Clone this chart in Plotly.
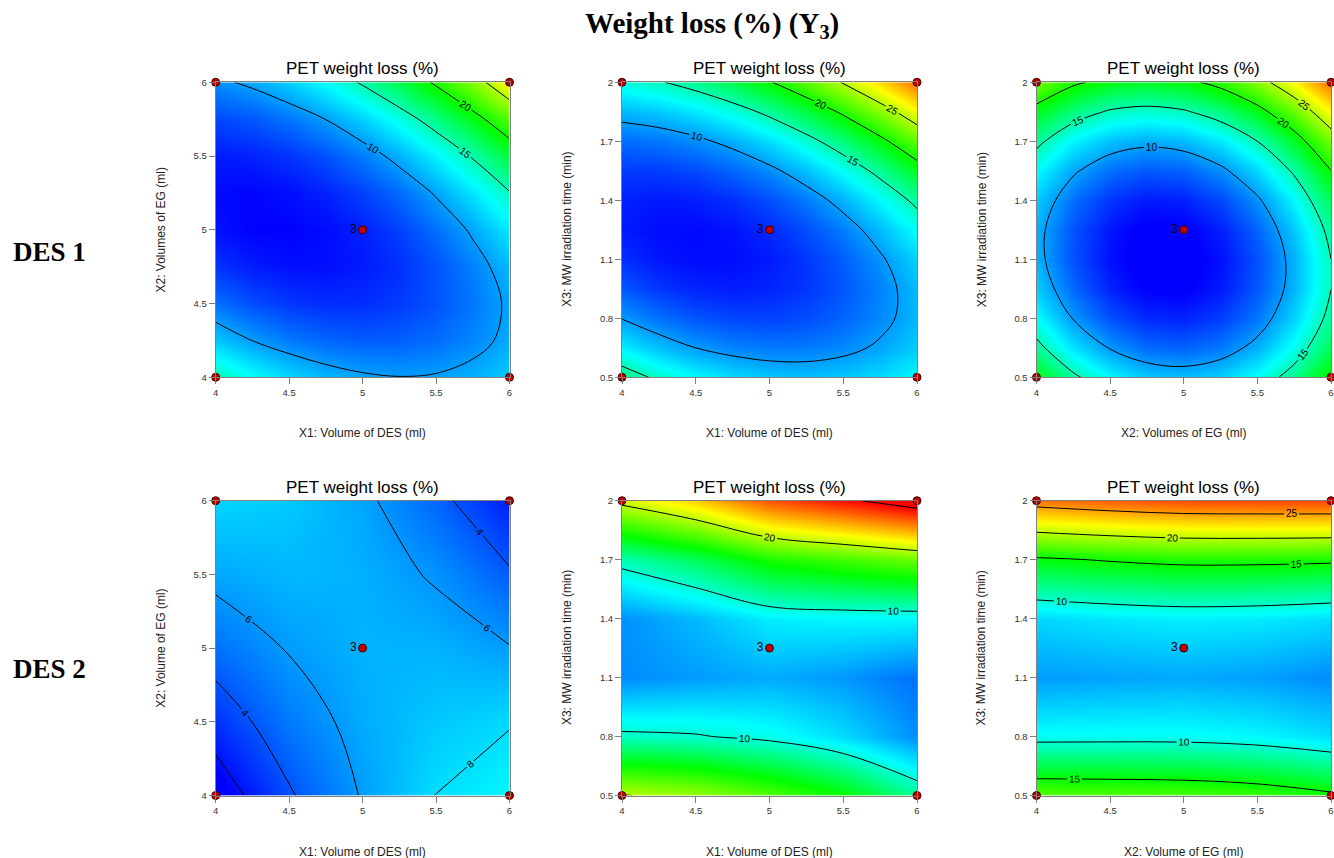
import plotly.graph_objects as go

# ---------------- data ----------------
x_fine = [4, 4.25, 4.5, 4.75, 5, 5.25, 5.5, 5.75, 6]                       # X1 / X2 (ml)
x3_fine = [0.5, 0.65, 0.8, 0.95, 1.1, 1.25, 1.4, 1.55, 1.7, 1.85, 2.0]     # X3 (min)
x_coarse = [4, 4.5, 5, 5.5, 6]
x3_coarse = [0.5, 0.8, 1.1, 1.4, 1.7, 2.0]

# DES 1 : PET weight loss (%) ; rows follow the y grid, columns the x grid
des1_x1x2 = [
    [15.05, 13.30, 11.93, 10.93, 10.30, 10.05, 10.18, 10.68, 11.55],
    [11.39, 9.97, 8.92, 8.25, 7.95, 8.03, 8.48, 9.31, 10.51],
    [8.58, 7.48, 6.76, 6.42, 6.45, 6.86, 7.64, 8.79, 10.33],
    [6.61, 5.85, 5.46, 5.44, 5.80, 6.53, 7.64, 9.13, 10.99],
    [5.50, 5.06, 5.00, 5.31, 6.00, 7.06, 8.50, 10.31, 12.50],
    [5.24, 5.13, 5.39, 6.03, 7.05, 8.44, 10.21, 12.35, 14.86],
    [5.83, 6.04, 6.64, 7.61, 8.95, 10.67, 12.76, 15.23, 18.08],
    [7.26, 7.81, 8.73, 10.03, 11.70, 13.75, 16.17, 18.97, 22.14],
    [9.55, 10.43, 11.68, 13.30, 15.30, 17.68, 20.43, 23.55, 27.60],
]
des1_x1x3 = [
    [16.35, 14.49, 13.05, 12.02, 11.40, 11.19, 11.40, 12.02, 13.05],
    [12.76, 11.17, 10.00, 9.24, 8.89, 8.95, 9.43, 10.32, 11.62],
    [9.92, 8.60, 7.70, 7.21, 7.13, 7.46, 8.21, 9.37, 10.94],
    [7.82, 6.77, 6.14, 5.92, 6.11, 6.71, 7.73, 9.16, 11.00],
    [6.46, 5.68, 5.32, 5.37, 5.83, 6.70, 7.99, 9.69, 11.80],
    [5.85, 5.34, 5.25, 5.57, 6.30, 7.44, 9.00, 10.97, 13.35],
    [5.98, 5.74, 5.92, 6.51, 7.51, 8.92, 10.75, 12.99, 15.64],
    [6.86, 6.89, 7.34, 8.20, 9.47, 11.15, 13.25, 15.76, 18.68],
    [8.48, 8.78, 9.50, 10.63, 12.17, 14.12, 16.49, 19.27, 22.46],
    [10.84, 11.41, 12.40, 13.80, 15.61, 17.83, 20.47, 23.52, 26.98],
    [13.95, 14.79, 16.05, 17.72, 19.80, 22.29, 25.20, 28.52, 32.25],
]
des1_x2x3 = [
    [19.12, 15.52, 12.98, 11.49, 11.07, 11.70, 13.40, 16.15, 19.96],
    [15.79, 12.29, 9.86, 8.48, 8.16, 8.90, 10.70, 13.56, 17.47],
    [13.28, 9.89, 7.57, 6.29, 6.08, 6.93, 8.83, 11.80, 15.82],
    [11.60, 8.32, 6.09, 4.93, 4.82, 5.77, 7.78, 10.85, 14.98],
    [10.75, 7.58, 5.46, 4.40, 4.40, 5.46, 7.58, 10.75, 14.99],
    [10.73, 7.66, 5.65, 4.69, 4.80, 5.96, 8.19, 11.47, 15.81],
    [11.54, 8.57, 6.67, 5.82, 6.03, 7.30, 9.63, 13.02, 17.46],
    [13.17, 10.31, 8.51, 7.77, 8.09, 9.47, 11.90, 15.40, 19.95],
    [15.63, 12.88, 11.18, 10.55, 10.97, 12.45, 15.00, 18.59, 23.25],
    [18.92, 16.28, 14.69, 14.16, 14.69, 16.28, 18.93, 22.63, 27.40],
    [23.04, 20.50, 19.02, 18.59, 19.23, 20.92, 23.68, 27.49, 32.36],
]
# DES 2
des2_x1x2 = [
    [0.83, 3.80, 6.13, 8.05, 8.83],
    [2.95, 5.08, 6.56, 7.39, 7.90],
    [4.83, 6.11, 6.75, 6.74, 6.08],
    [6.45, 6.89, 6.69, 5.83, 4.20],
    [7.83, 7.43, 6.38, 4.50, 2.33],
]
des2_x1x3 = [
    [20.14, 19.16, 17.27, 14.96, 11.46],
    [10.41, 10.17, 9.44, 8.00, 5.67],
    [5.61, 6.10, 6.55, 5.97, 4.81],
    [5.73, 6.96, 8.58, 8.86, 8.88],
    [10.78, 12.75, 15.54, 16.69, 17.87],
    [20.76, 23.47, 27.43, 29.44, 31.79],
]
des2_x2x3 = [
    [17.30, 17.17, 17.01, 16.50, 15.44],
    [9.23, 9.28, 9.27, 8.89, 8.04],
    [6.09, 6.32, 6.46, 6.20, 5.58],
    [7.87, 8.30, 8.58, 8.45, 8.04],
    [14.59, 15.20, 15.63, 15.62, 15.44],
    [26.23, 27.02, 27.60, 27.71, 27.76],
]

# design points: factorial corners + centre point (3 replicates)
corner_x = [4, 6, 4, 6]
corner_x2 = [4, 4, 6, 6]
corner_x3 = [0.5, 0.5, 2, 2]
centre_x = [5]
centre_x2 = [5]
centre_x3 = [1.25]
centre_label = ["3"]

x_ticks = [4, 4.5, 5, 5.5, 6]
x2_ticks = [4, 4.5, 5, 5.5, 6]
x3_ticks = [0.5, 0.8, 1.1, 1.4, 1.7, 2]
x3_ticktext = ["0.5", "0.8", "1.1", "1.4", "1.7", "2"]

panel_title = "PET weight loss (%)"
main_title = "Weight loss (%) (Y<sub>3</sub>)"
row_labels = ["DES 1", "DES 2"]

# ---------------- styling ----------------
W, H = 1334, 858
colorscale = [
    [0.0, "rgb(0,0,255)"],
    [0.263, "rgb(0,255,255)"],
    [0.47, "rgb(0,255,0)"],
    [0.72, "rgb(255,255,0)"],
    [1.0, "rgb(255,0,0)"],
]
SANS = "Liberation Sans, Arial, sans-serif"
SERIF = "Liberation Serif, Times New Roman, serif"

# plot-area boxes in pixels: (left, right, top, bottom)
col_px = [(215.7, 509.5), (622.0, 917.0), (1036.5, 1331.0)]
row_px = [(82.3, 377.3), (500.7, 795.5)]

panels = [
    # z, x grid, y grid, y ticks, y ticktext, x title, y title, start/end/size, zmin, zmax, corner y, centre y
    (des1_x1x2, x_fine, x_fine, x2_ticks, None, "X1: Volume of DES (ml)", "X2: Volumes of EG (ml)",
     10, 25, 5, 5, 36, corner_x2, centre_x2),
    (des1_x1x3, x_fine, x3_fine, x3_ticks, x3_ticktext, "X1: Volume of DES (ml)", "X3: MW irradiation time (min)",
     10, 25, 5, 5, 36, corner_x3, centre_x3),
    (des1_x2x3, x_fine, x3_fine, x3_ticks, x3_ticktext, "X2: Volumes of EG (ml)", "X3: MW irradiation time (min)",
     10, 25, 5, 5, 36, corner_x3, centre_x3),
    (des2_x1x2, x_coarse, x_coarse, x2_ticks, None, "X1: Volume of DES (ml)", "X2: Volume of EG (ml)",
     2, 8, 2, 1.5, 30, corner_x2, centre_x2),
    (des2_x1x3, x_coarse, x3_coarse, x3_ticks, x3_ticktext, "X1: Volume of DES (ml)", "X3: MW irradiation time (min)",
     10, 30, 10, 1.5, 30, corner_x3, centre_x3),
    (des2_x2x3, x_coarse, x3_coarse, x3_ticks, x3_ticktext, "X2: Volume of EG (ml)", "X3: MW irradiation time (min)",
     10, 25, 5, 1.5, 30, corner_x3, centre_x3),
]

fig = go.Figure()
annotations = []
layout_axes = {}
marker_style = dict(size=8, color="#c00000", line=dict(color="#3a0000", width=1))

for i, (z, xgrid, ygrid, yticks, yticktext, xt, yt, cs, ce, csz, zmin, zmax, cy, my) in enumerate(panels):
    r, c = divmod(i, 3)
    n = i + 1
    xa = "x" if n == 1 else f"x{n}"
    ya = "y" if n == 1 else f"y{n}"
    l, rr = col_px[c]
    t, b = row_px[r]
    xdom = [l / W, rr / W]
    ydom = [1 - b / H, 1 - t / H]

    fig.add_trace(go.Contour(
        x=xgrid, y=ygrid, z=z, xaxis=xa, yaxis=ya,
        colorscale=colorscale, zmin=zmin, zmax=zmax, showscale=False,
        contours=dict(start=cs, end=ce, size=csz, coloring="heatmap",
                      showlabels=True,
                      labelfont=dict(size=10, color="black", family=SANS)),
        line=dict(color="black", width=1, smoothing=1.0),
        hoverinfo="skip",
    ))
    fig.add_trace(go.Scatter(
        x=corner_x, y=cy, xaxis=xa, yaxis=ya, mode="markers",
        marker=marker_style, cliponaxis=False, hoverinfo="skip",
    ))
    fig.add_trace(go.Scatter(
        x=centre_x, y=my, xaxis=xa, yaxis=ya, mode="markers+text",
        text=centre_label, textposition="middle left",
        textfont=dict(size=12, color="black", family=SANS),
        marker=marker_style, cliponaxis=False, hoverinfo="skip",
    ))

    axis_common = dict(showgrid=False, zeroline=False, showline=True, mirror=True,
                       automargin=False,
                       linecolor="#808080", linewidth=1, ticks="outside", ticklen=6,
                       tickcolor="#808080", tickwidth=1,
                       tickfont=dict(size=9.5, color="#333333", family=SANS))
    layout_axes["xaxis" if n == 1 else f"xaxis{n}"] = dict(
        domain=xdom, anchor=ya, range=[min(xgrid), max(xgrid)], tickvals=x_ticks, **axis_common)
    yaxis_cfg = dict(domain=ydom, anchor=xa, range=[min(ygrid), max(ygrid)],
                     tickvals=yticks, **axis_common)
    if yticktext is not None:
        yaxis_cfg["ticktext"] = yticktext
    layout_axes["yaxis" if n == 1 else f"yaxis{n}"] = yaxis_cfg

    xc = (xdom[0] + xdom[1]) / 2
    yc = (ydom[0] + ydom[1]) / 2
    annotations.append(dict(text=panel_title, xref="paper", yref="paper", x=xc, y=ydom[1],
                            xanchor="center", yanchor="middle", yshift=13.5, showarrow=False,
                            font=dict(size=17, color="black", family=SANS)))
    annotations.append(dict(text=xt, xref="paper", yref="paper", x=xc, y=ydom[0],
                            xanchor="center", yanchor="middle", yshift=-56, showarrow=False,
                            font=dict(size=12, color="#222222", family=SANS)))
    annotations.append(dict(text=yt, xref="paper", yref="paper", x=xdom[0], y=yc,
                            xanchor="center", yanchor="middle", xshift=-55, textangle=-90,
                            showarrow=False, font=dict(size=12, color="#222222", family=SANS)))

annotations.append(dict(text=main_title, xref="paper", yref="paper", x=712 / W, y=1 - 25 / H,
                        xanchor="center", yanchor="middle", showarrow=False,
                        font=dict(size=29, color="black", family=SERIF, weight="bold")))
for k, lab in enumerate(row_labels):
    ypix = [251.7, 669.0][k]
    annotations.append(dict(text=lab, xref="paper", yref="paper", x=49.5 / W, y=1 - ypix / H,
                            xanchor="center", yanchor="middle", showarrow=False,
                            font=dict(size=27, color="black", family=SERIF, weight="bold")))

fig.update_layout(
    template="none",
    width=W, height=H, margin=dict(l=0, r=0, t=0, b=0, pad=0, autoexpand=False),
    paper_bgcolor="white", plot_bgcolor="white", showlegend=False,
    font=dict(family=SANS), annotations=annotations, **layout_axes,
)

fig.write_html(
    "out.html",
    config={"displayModeBar": False},
    post_script="document.body.style.margin='0';document.body.style.padding='0';"
                "document.body.style.overflow='hidden';"
                "document.documentElement.style.overflow='hidden';",
)
